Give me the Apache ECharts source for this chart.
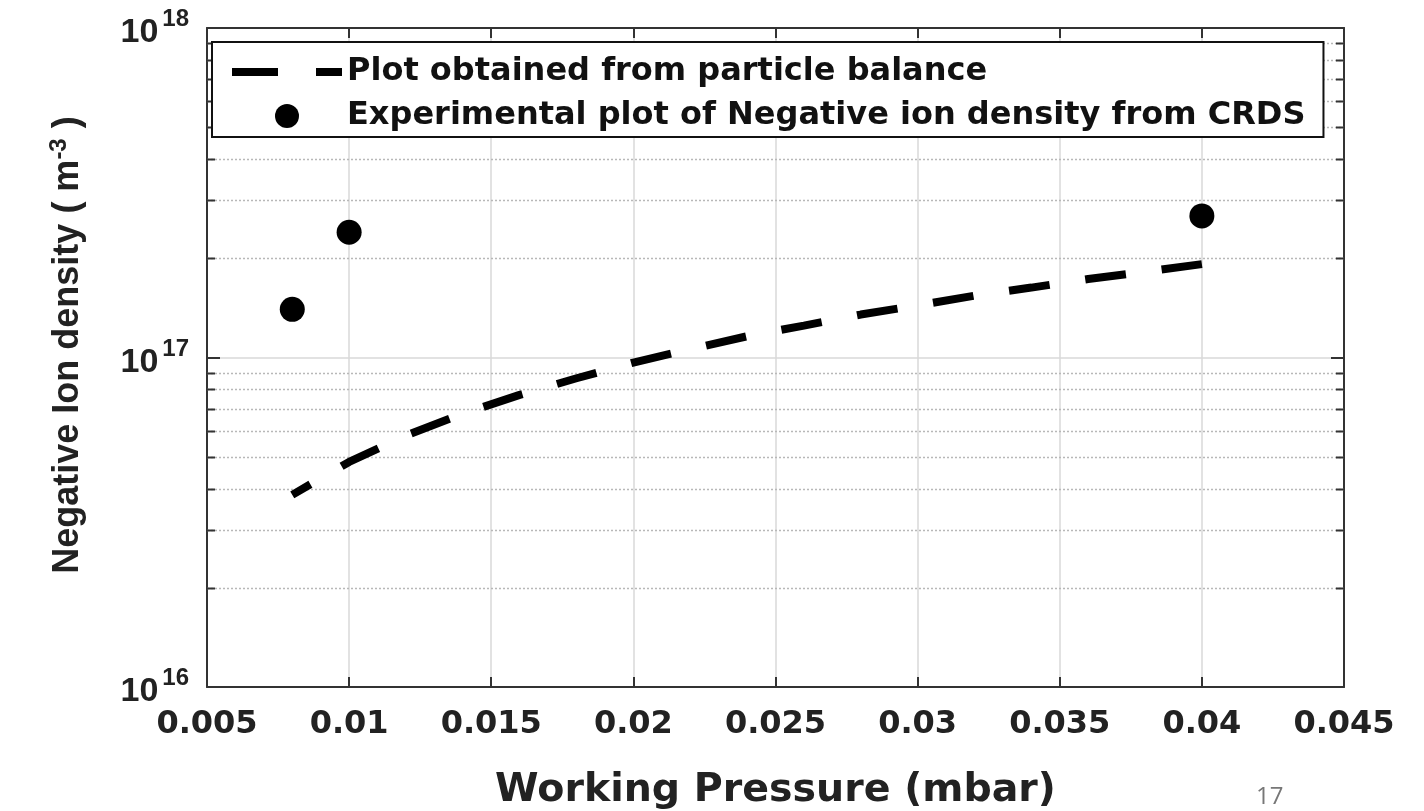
<!DOCTYPE html>
<html><head><meta charset="utf-8">
<script src="https://cdn.jsdelivr.net/npm/echarts@6/dist/echarts.min.js"></script>
<style>html,body{margin:0;padding:0;background:#fff}#c{width:1424px;height:811px}</style>
</head><body><div id="c"></div>
<script>
// ---- data ----
const pressureModel = [0.008, 0.009, 0.010, 0.012, 0.014, 0.016, 0.018, 0.020, 0.022, 0.024, 0.026, 0.028, 0.030, 0.032, 0.034, 0.036, 0.038, 0.040];
const densityModel  = [3.83e16, 4.3e16, 4.82e16, 5.8e16, 6.75e16, 7.7e16, 8.65e16, 9.65e16, 1.06e17, 1.16e17, 1.25e17, 1.35e17, 1.44e17, 1.54e17, 1.63e17, 1.73e17, 1.82e17, 1.92e17];
const pressureExp = [0.008, 0.010, 0.040];
const densityExp  = [1.40e17, 2.40e17, 2.69e17];
const minorGridValues = [2e16,3e16,4e16,5e16,6e16,7e16,8e16,9e16,2e17,3e17,4e17,5e17,6e17,7e17,8e17,9e17];
const seriesNames = ['Plot obtained from particle balance', 'Experimental plot of Negative ion density from CRDS'];
const xMin = 0.005, xMax = 0.045, xStep = 0.005;
const yMin = 1e16, yMax = 1e18;

const chart = echarts.init(document.getElementById('c'));
const HF = 'DejaVu Sans';
const AF = 'Liberation Sans';

chart.setOption({
  animation: false,
  backgroundColor: '#fff',
  grid: { left: 207, right: 80, top: 28, bottom: 124, containLabel: false, outerBoundsMode: 'none' },
  legend: {
    orient: 'vertical', left: 212, top: 42,
    data: [{ name: seriesNames[0], itemStyle: { opacity: 0 } }, { name: seriesNames[1] }],
    itemWidth: 110, itemHeight: 24, itemGap: 12,
    padding: [14, 18, 5, 16],
    backgroundColor: '#fff', borderColor: '#111', borderWidth: 2,
    textStyle: { fontFamily: HF, fontWeight: 'bold', fontSize: 32, color: '#111', lineHeight: 24 },
    lineStyle: { type: [46, 38], dashOffset: 0, width: 8, cap: 'butt' }
  },
  xAxis: [{
    type: 'value', min: xMin, max: xMax, interval: xStep,
    name: 'Working Pressure (mbar)', nameLocation: 'middle', nameGap: 84,
    nameTextStyle: { fontFamily: HF, fontWeight: 'bold', fontSize: 39.5, color: '#222' },
    axisLine: { onZero: false, lineStyle: { color: '#333', width: 2 } },
    axisTick: { inside: true, length: 10, lineStyle: { color: '#333', width: 2 } },
    axisLabel: { margin: 22, fontFamily: HF, fontWeight: 'bold', fontSize: 32, color: '#222',
      formatter: v => String(+v.toFixed(3)) },
    splitLine: { show: true, lineStyle: { color: '#d8d8d8', width: 1.5 } }
  }, {
    type: 'value', min: xMin, max: xMax, interval: xStep, position: 'top',
    axisLine: { onZero: false, lineStyle: { color: '#333', width: 2 } },
    axisTick: { inside: true, length: 10, lineStyle: { color: '#333', width: 2 } },
    axisLabel: { show: false }, splitLine: { show: false }
  }],
  yAxis: [{
    type: 'log', logBase: 10, min: yMin, max: yMax,
    name: '{a|Negative Ion density ( m}{s|-3}{a| )}',
    nameLocation: 'middle', nameGap: 118, nameRotate: 90,
    nameTextStyle: { padding: [0, 0, 0, 25],
      rich: { a: { fontFamily: AF, fontWeight: 'bold', fontSize: 36, color: '#222' },
              s: { fontFamily: AF, fontWeight: 'bold', fontSize: 24, color: '#222', padding: [0, 0, 18, 0] } } },
    axisLine: { onZero: false, lineStyle: { color: '#333', width: 2 } },
    axisTick: { inside: true, length: 13, lineStyle: { color: '#333', width: 2 } },
    axisLabel: { margin: 18, fontFamily: AF, fontWeight: 'bold', fontSize: 34, color: '#222',
      formatter: v => '{base|10}{sup|' + Math.round(Math.log10(v)) + '}',
      rich: { base: { fontFamily: AF, fontWeight: 'bold', fontSize: 34, color: '#222', padding: [10, 0, 0, 0] },
              sup: { fontFamily: AF, fontWeight: 'bold', fontSize: 24, color: '#222', padding: [0, 0, 17, 4] } } },
    splitLine: { show: true, lineStyle: { color: '#d8d8d8', width: 1.5 } }
  }, {
    type: 'log', logBase: 10, min: yMin, max: yMax, position: 'right',
    axisLine: { onZero: false, lineStyle: { color: '#333', width: 2 } },
    axisTick: { inside: true, length: 13, lineStyle: { color: '#333', width: 2 } },
    axisLabel: { show: false }, splitLine: { show: false }
  }],
  graphic: [{ type: 'text', left: 1256, top: 785,
    style: { text: '17', fontFamily: 'Open Sans', fontSize: 24, fill: '#777' } }],
  series: [{
    type: 'custom', name: 'minor', silent: true, z: 1, xAxisIndex: 0, yAxisIndex: 0,
    data: minorGridValues.map(v => [xMin, v]),
    renderItem: function (params, api) {
      const cs = params.coordSys;
      const y = Math.round(api.coord([api.value(0), api.value(1)])[1]) + 0.5;
      return { type: 'group', children: [
        { type: 'line', shape: { x1: cs.x, y1: y, x2: cs.x + cs.width, y2: y }, style: { stroke: '#b8b8b8', lineWidth: 1.5, lineDash: [2, 2] } },
        { type: 'line', shape: { x1: cs.x, y1: y, x2: cs.x + 8, y2: y }, style: { stroke: '#333', lineWidth: 2 } },
        { type: 'line', shape: { x1: cs.x + cs.width - 8, y1: y, x2: cs.x + cs.width, y2: y }, style: { stroke: '#333', lineWidth: 2 } }
      ] };
    }
  }, {
    type: 'line', name: seriesNames[0], z: 3,
    data: pressureModel.map((p, i) => [p, densityModel[i]]),
    symbol: 'none', smooth: false,
    lineStyle: { color: '#000', width: 8, type: [41, 36], dashOffset: 20, cap: 'butt' },
    itemStyle: { color: '#000' }
  }, {
    type: 'scatter', name: seriesNames[1], z: 4,
    data: pressureExp.map((p, i) => [p, densityExp[i]]),
    symbol: 'circle', symbolSize: 25,
    itemStyle: { color: '#000', opacity: 1 }
  }]
});
</script></body></html>
